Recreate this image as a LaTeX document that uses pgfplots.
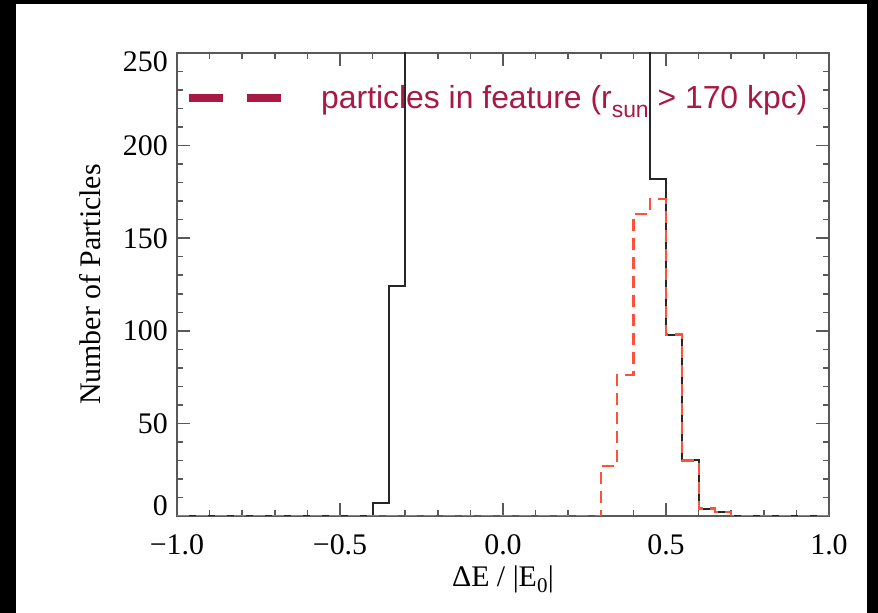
\documentclass[border=0pt]{standalone}
\usepackage{pgfplots}
\pgfplotsset{compat=1.18}
\usepackage{fontspec}
\setmainfont{Liberation Serif}
\newfontfamily\arial{Liberation Sans}
\definecolor{featred}{RGB}{170,24,68}
\definecolor{histred}{RGB}{255,80,60}

\begin{document}
\begin{tikzpicture}
% black frame of the original slide
\fill[black] (0,0) rectangle (878bp,613bp);
\fill[white] (16bp,0) rectangle (867bp,609bp);
\begin{axis}[
  at={(177bp,97bp)}, anchor=south west,
  width=652bp, height=463bp, scale only axis,
  xmin=-1, xmax=1, ymin=0, ymax=250,
  xtick={-1,-0.5,0,0.5,1},
  xticklabels={−1.0,−0.5,0.0,0.5,1.0},
  ytick={0,50,100,150,200,250},
  yticklabels={\raisebox{11bp}{0},50,100,150,200,\raisebox{-9bp}{250}},
  minor x tick num=4, minor y tick num=4,
  tick align=inside,
  major tick length=13bp, minor tick length=6bp,
  axis line style={black!65, line width=2bp},
  every tick/.style={black!65, line width=1.5bp},
  tick label style={font=\fontsize{30}{36}\selectfont, inner sep=0pt},
  xticklabel style={anchor=base, yshift=-38bp},
  yticklabel style={anchor=base east, xshift=-9bp, yshift=-10bp},
  xlabel={ΔE / |E\textsubscript{0}|},
  ylabel={Number of Particles},
  label style={font=\fontsize{30}{36}\selectfont, inner sep=0pt},
  xlabel style={at={(axis description cs:0.5,-0.153)}, anchor=base},
  ylabel style={at={(axis description cs:-0.133,0.5)}, anchor=center},
  legend style={draw=none, fill=none, at={(axis description cs:0.0123,0.903)},
    anchor=west, inner sep=0pt, column sep=36bp, nodes={inner sep=0pt},
    font=\arial\fontsize{32}{38}\selectfont, text=featred},
]
\addlegendimage{legend image code/.code={\draw[featred, line width=8bp, dash pattern=on 34bp off 24bp] (0bp,0bp) -- (92bp,0bp);}}
\addlegendentry{particles in feature (r\raisebox{-9bp}{\fontsize{23}{27}\selectfont sun} > 170 kpc)}
% all particles (bins from -0.3 to 0.45 run off the top of the axis)
\addplot[forget plot, const plot mark left, black!85, line width=2bp] coordinates {
  (-1,0) (-0.4,7) (-0.35,124) (-0.3,400) (0.45,182) (0.5,98) (0.55,30)
  (0.6,4) (0.65,2) (0.7,0) (1,0)};
% particles in feature
\addplot[forget plot, const plot mark left, histred, line width=2.2bp, dash pattern=on 12bp off 7bp] coordinates {
  (-1,0) (0.3,27) (0.35,76) (0.4,163) (0.45,171) (0.5,98) (0.55,30)
  (0.6,4) (0.65,2) (0.7,0) (1,0)};
\end{axis}
\end{tikzpicture}
\end{document}
